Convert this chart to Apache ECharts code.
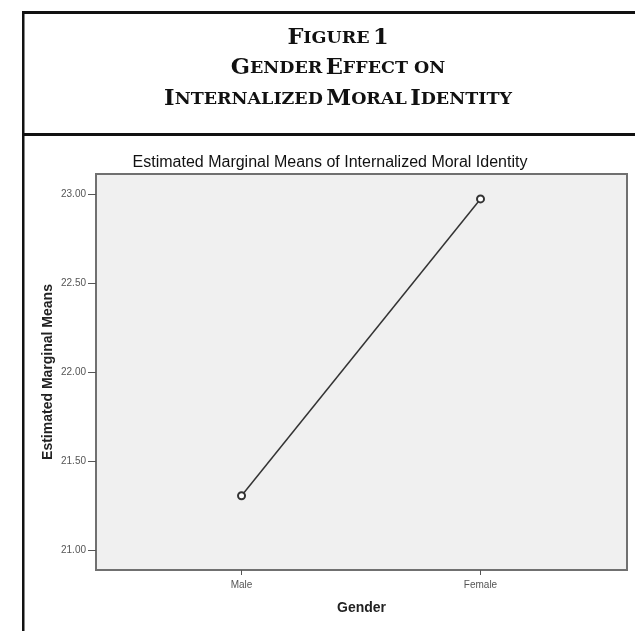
<!DOCTYPE html>
<html>
<head>
<meta charset="utf-8">
<script src="https://cdn.jsdelivr.net/npm/echarts@6/dist/echarts.min.js"></script>
<style>html,body{margin:0;padding:0;background:#fff}#c{width:635px;height:631px}</style>
</head>
<body>
<div id="c"></div>
<script>
var categories = ['Male', 'Female'];
var means = [21.305, 22.972];
var yTicks = [21.0, 21.5, 22.0, 22.5, 23.0];
var yRange = [20.888, 23.112];
var xRange = [-0.609, 1.613];

var chart = echarts.init(document.getElementById('c'));
var serif = '"DejaVu Serif", "Liberation Serif", serif';
var sans = '"Liberation Sans", Arial, sans-serif';
var rich = {
  a: {fontFamily: serif, fontWeight: 'bold', fontSize: 22.5, fill: '#111', color: '#111'},
  b: {fontFamily: serif, fontWeight: 'bold', fontSize: 17.5, fill: '#111', color: '#111'}
};
function capsText(x, y, s) {
  return {type: 'text', x: x, y: y, silent: true,
    style: {text: s, rich: rich, align: 'center', verticalAlign: 'middle', textAlign: 'center', textVerticalAlign: 'middle'}};
}
var option = {
  animation: false,
  backgroundColor: '#fff',
  title: {
    text: 'Estimated Marginal Means of Internalized Moral Identity',
    left: 325, top: 150, textAlign: 'center',
    textStyle: {fontFamily: sans, fontSize: 16, fontWeight: 'normal', color: '#111'}
  },
  graphic: [
    {type: 'rect', silent: true, shape: {x: 22, y: 11, width: 2.5, height: 625}, style: {fill: '#111'}},
    {type: 'rect', silent: true, shape: {x: 22, y: 11, width: 620, height: 3}, style: {fill: '#111'}},
    {type: 'rect', silent: true, shape: {x: 22, y: 133, width: 620, height: 3}, style: {fill: '#111'}},
    capsText(338, 38, '{a|F}{b|IGURE} {a|1}'),
    capsText(338, 68.5, '{a|G}{b|ENDER} {a|E}{b|FFECT ON}'),
    capsText(338, 99, '{a|I}{b|NTERNALIZED} {a|M}{b|ORAL} {a|I}{b|DENTITY}')
  ],
  grid: {left: 96, right: 8, top: 174, bottom: 61, show: true,
    backgroundColor: '#f0f0f0', borderColor: '#707070', borderWidth: 2, containLabel: false},
  xAxis: {
    type: 'value', min: xRange[0], max: xRange[1],
    name: 'Gender', nameLocation: 'middle', nameGap: 31,
    nameTextStyle: {fontFamily: sans, fontSize: 14, fontWeight: 'bold', color: '#222'},
    axisLine: {show: true, onZero: false, lineStyle: {color: '#707070', width: 2}},
    axisTick: {show: true, length: 5, customValues: [0, 1], lineStyle: {color: '#555'}},
    axisLabel: {customValues: [0, 1], margin: 10, fontSize: 10, color: '#555',
      fontFamily: sans,
      formatter: function (v) { return categories[Math.round(v)] || ''; }},
    splitLine: {show: false}
  },
  yAxis: {
    type: 'value', min: yRange[0], max: yRange[1],
    name: 'Estimated Marginal Means', nameLocation: 'middle', nameGap: 41, nameRotate: 90,
    nameMoveOverlap: false,
    nameTextStyle: {fontFamily: sans, fontSize: 14, fontWeight: 'bold', color: '#222'},
    axisLine: {show: true, onZero: false, lineStyle: {color: '#707070', width: 2}},
    axisTick: {show: true, length: 8, customValues: yTicks, lineStyle: {color: '#555'}},
    axisLabel: {customValues: yTicks, margin: 10, fontSize: 10, color: '#555',
      fontFamily: sans,
      formatter: function (v) { return v.toFixed(2); }},
    splitLine: {show: false}
  },
  series: [{
    type: 'line',
    data: categories.map(function (c, i) { return [i, means[i]]; }),
    symbol: 'emptyCircle', symbolSize: 7,
    lineStyle: {color: '#333', width: 1.5},
    itemStyle: {color: '#333', borderColor: '#333', borderWidth: 1.2}
  }]
};
chart.setOption(option);
</script>
</body>
</html>
